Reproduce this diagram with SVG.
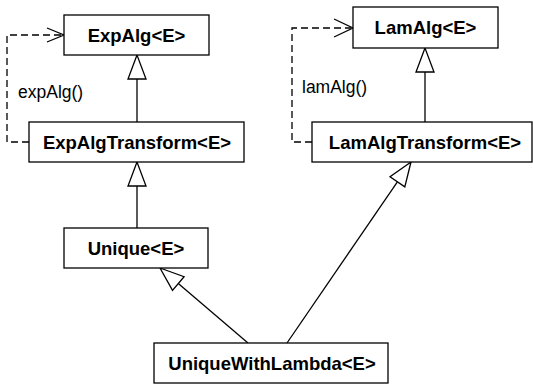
<svg xmlns="http://www.w3.org/2000/svg" width="533" height="386" viewBox="0 0 533 386">
<style>
.box{fill:#fff;stroke:#000;stroke-width:1.3}
.name{font-family:"Liberation Sans",Arial,sans-serif;font-weight:bold;font-size:18.5px;text-anchor:middle;fill:#000}
.lbl{font-family:"Liberation Sans",Arial,sans-serif;font-size:17.5px;fill:#000}
.ln{fill:none;stroke:#000;stroke-width:1.3}
.dash{fill:none;stroke:#000;stroke-width:1.3;stroke-dasharray:7,4}
.tri{fill:#fff;stroke:#000;stroke-width:1.3;stroke-linejoin:miter}
</style>
<rect width="533" height="386" fill="#fff"/>
<g id="connectors">
<line class="ln" x1="137" y1="122" x2="137" y2="79"/>
<polygon class="tri" points="137,55 128,79 146,79"/>
<line class="ln" x1="137" y1="228" x2="137" y2="186"/>
<polygon class="tri" points="137,162 128,186 146,186"/>
<line class="ln" x1="425" y1="122" x2="425" y2="72"/>
<polygon class="tri" points="425,48 416,72 434,72"/>
<line class="ln" x1="248" y1="343" x2="178.3" y2="283.6"/>
<polygon class="tri" points="160,268 184.1,276.7 172.5,290.4"/>
<line class="ln" x1="287" y1="343" x2="397.4" y2="181.8"/>
<polygon class="tri" points="411,162 404.8,186.9 390,176.7"/>
<path class="dash" d="M29,142 H7 V35 H62"/>
<path class="ln" d="M47,28 L64,35 L47,42"/>
<path class="dash" d="M312,142 H292 V28 H351"/>
<path class="ln" d="M334,19 L353,28 L334,37"/>
<text class="lbl" x="18" y="98">expAlg()</text>
<text class="lbl" x="302" y="93">lamAlg()</text>
</g>
<g id="ExpAlg"><rect class="box" x="64" y="15" width="145" height="40"/><text class="name" x="136.5" y="41.5">ExpAlg&lt;E&gt;</text></g>
<g id="LamAlg"><rect class="box" x="353" y="7" width="145" height="41"/><text class="name" x="425.5" y="34">LamAlg&lt;E&gt;</text></g>
<g id="ExpAlgTransform"><rect class="box" x="29" y="122" width="215" height="40"/><text class="name" x="137" y="148.5">ExpAlgTransform&lt;E&gt;</text></g>
<g id="LamAlgTransform"><rect class="box" x="312" y="122" width="220" height="40"/><text class="name" x="425" y="148.5">LamAlgTransform&lt;E&gt;</text></g>
<g id="Unique"><rect class="box" x="64" y="228" width="144" height="40"/><text class="name" x="136" y="254.5">Unique&lt;E&gt;</text></g>
<g id="UniqueWithLambda"><rect class="box" x="154" y="343" width="234" height="40"/><text class="name" x="272" y="369.5">UniqueWithLambda&lt;E&gt;</text></g>
</svg>
